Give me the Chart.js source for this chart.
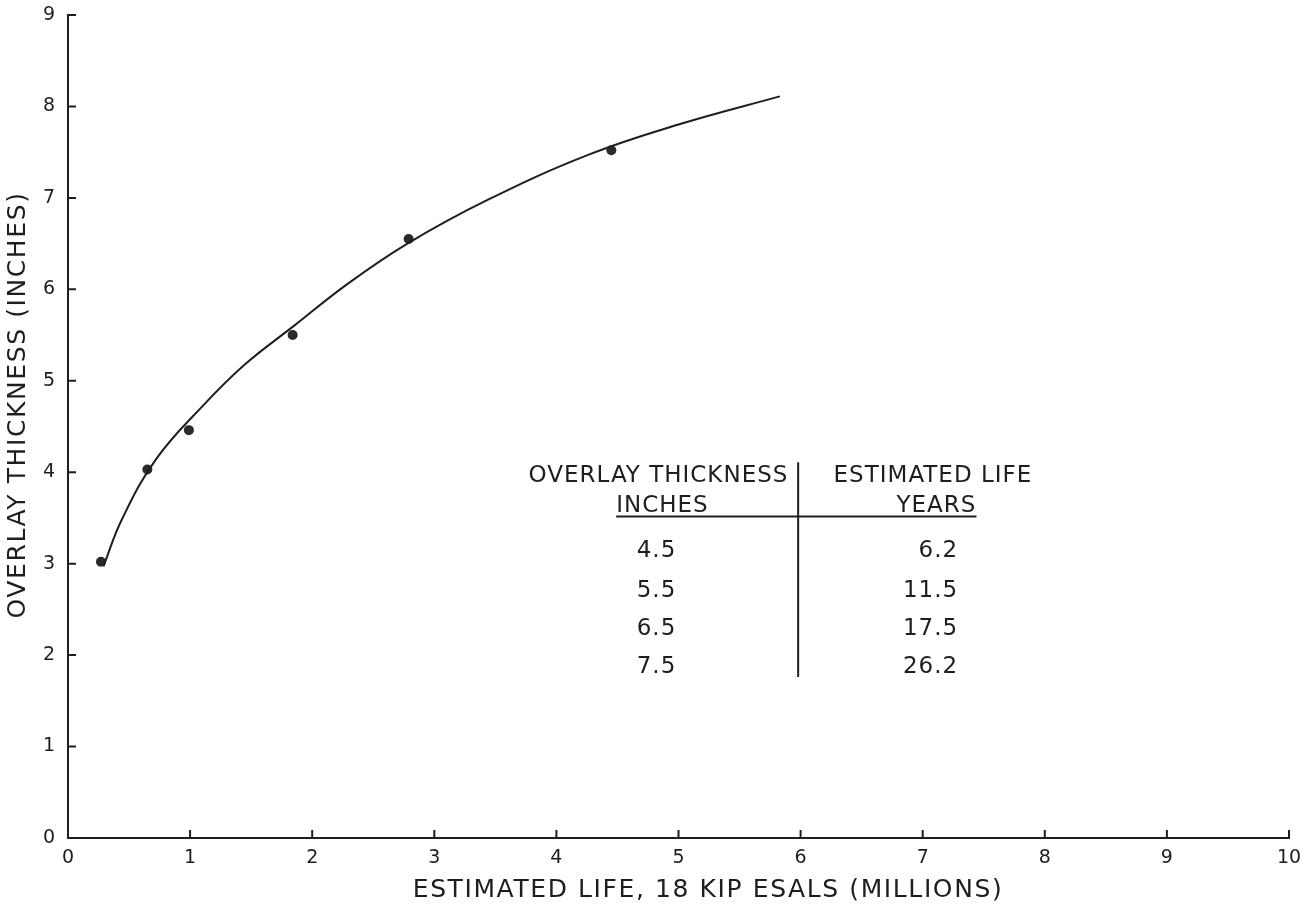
<!DOCTYPE html>
<html>
<head>
<meta charset="utf-8">
<script src="https://cdn.jsdelivr.net/npm/chart.js@4/dist/chart.umd.min.js"></script>
<style>
  html, body { margin: 0; background: #fff; }
  #wrap { width: 1314px; height: 904px; }
</style>
</head>
<body>
<div id="wrap"><canvas id="c"></canvas></div>
<script>
// measured points
const pointsX = [0.27, 0.65, 0.99, 1.84, 2.79, 4.45];
const pointsY = [3.02, 4.03, 4.46, 5.50, 6.55, 7.52];

// hand drawn curve, read along its length
const curveX = [0.29, 0.44, 0.72, 1.10, 1.45, 1.85, 2.29, 2.78, 3.44, 4.26, 5.02, 5.83];
const curveY = [2.97, 3.48, 4.14, 4.72, 5.18, 5.60, 6.06, 6.50, 6.98, 7.47, 7.81, 8.11];

// inset table
const tableHead = ['OVERLAY THICKNESS', 'ESTIMATED LIFE', 'INCHES', 'YEARS'];
const tableThickness = ['4.5', '5.5', '6.5', '7.5'];
const tableLife = ['6.2', '11.5', '17.5', '26.2'];

const xTitle = 'ESTIMATED LIFE, 18 KIP ESALS (MILLIONS)';
const yTitle = 'OVERLAY THICKNESS (INCHES)';

const ink = '#1e1e1e';
const fam = '"DejaVu Sans", sans-serif';

const toXY = (xs, ys) => xs.map((x, i) => ({ x: x, y: ys[i] }));

const extras = {
    id: 'extras',
    afterDatasetsDraw(chart) {
        const ctx = chart.ctx;
        const xs = chart.scales.x, ys = chart.scales.y;
        const px = v => xs.getPixelForValue(v);
        const py = v => ys.getPixelForValue(v);
        const area = chart.chartArea;
        ctx.save();
        ctx.fillStyle = ink;
        ctx.strokeStyle = ink;
        ctx.lineWidth = 2;

        // inward tick marks
        ctx.beginPath();
        xs.ticks.forEach(t => {
            if (t.value === 0) return;
            ctx.moveTo(px(t.value), area.bottom);
            ctx.lineTo(px(t.value), area.bottom - 8);
        });
        ys.ticks.forEach(t => {
            if (t.value === 0) return;
            ctx.moveTo(area.left, py(t.value));
            ctx.lineTo(area.left + 8, py(t.value));
        });
        ctx.stroke();

        // table
        ctx.font = '23px ' + fam;
        ctx.letterSpacing = '1px';
        ctx.textBaseline = 'alphabetic';
        ctx.textAlign = 'right';
        ctx.fillText(tableHead[0], px(5.90), py(3.898));
        ctx.textAlign = 'left';
        ctx.fillText(tableHead[1], px(6.27), py(3.898));
        ctx.fillText(tableHead[2], px(4.49), py(3.57));
        ctx.textAlign = 'right';
        ctx.fillText(tableHead[3], px(7.44), py(3.57));

        const rowY = [3.078, 2.64, 2.221, 1.809];
        tableThickness.forEach((t, i) => {
            ctx.textAlign = 'center';
            ctx.fillText(t, px(4.82), py(rowY[i]));
            ctx.textAlign = 'right';
            ctx.fillText(tableLife[i], px(7.29), py(rowY[i]));
        });

        ctx.beginPath();
        ctx.moveTo(px(4.49), py(3.515));
        ctx.lineTo(px(7.44), py(3.515));
        ctx.moveTo(px(5.98), py(4.11));
        ctx.lineTo(px(5.98), py(1.76));
        ctx.stroke();

        // axis titles
        ctx.font = '25px ' + fam;
        ctx.letterSpacing = '1.6px';
        ctx.textAlign = 'center';
        ctx.textBaseline = 'middle';
        ctx.fillText(xTitle, area.left + 640, area.bottom + 52);
        ctx.translate(18, area.top + 390);
        ctx.rotate(-Math.PI / 2);
        ctx.fillText(yTitle, 0, 0);
        ctx.restore();
    }
};

new Chart(document.getElementById('c'), {
    type: 'scatter',
    data: {
        datasets: [{
            label: 'curve',
            data: toXY(curveX, curveY),
            showLine: true,
            borderColor: ink,
            borderWidth: 2,
            pointRadius: 0,
            tension: 0.4,
            fill: false
        }, {
            label: 'points',
            data: toXY(pointsX, pointsY),
            backgroundColor: '#2a2a2a',
            borderWidth: 0,
            pointRadius: 5
        }]
    },
    options: {
        responsive: true,
        maintainAspectRatio: false,
        animation: false,
        layout: { padding: { left: 30, right: 25, top: 15, bottom: 36 } },
        plugins: {
            legend: { display: false },
            tooltip: { enabled: false }
        },
        scales: {
            x: {
                type: 'linear',
                min: 0,
                max: 10,
                afterFit: s => { s.height = 30; s.paddingLeft = 0; s.paddingRight = 0; },
                border: { display: true, color: ink, width: 2 },
                grid: { drawOnChartArea: false, drawTicks: false },
                ticks: { stepSize: 1, padding: 9, color: ink, font: { family: fam, size: 19 } }
            },
            y: {
                type: 'linear',
                min: 0,
                max: 9,
                afterFit: s => { s.width = 38; s.paddingTop = 0; s.paddingBottom = 0; },
                border: { display: true, color: ink, width: 2 },
                grid: { drawOnChartArea: false, drawTicks: false },
                ticks: { stepSize: 1, padding: 13, color: ink, font: { family: fam, size: 19 } }
            }
        }
    },
    plugins: [extras]
});
</script>
</body>
</html>
